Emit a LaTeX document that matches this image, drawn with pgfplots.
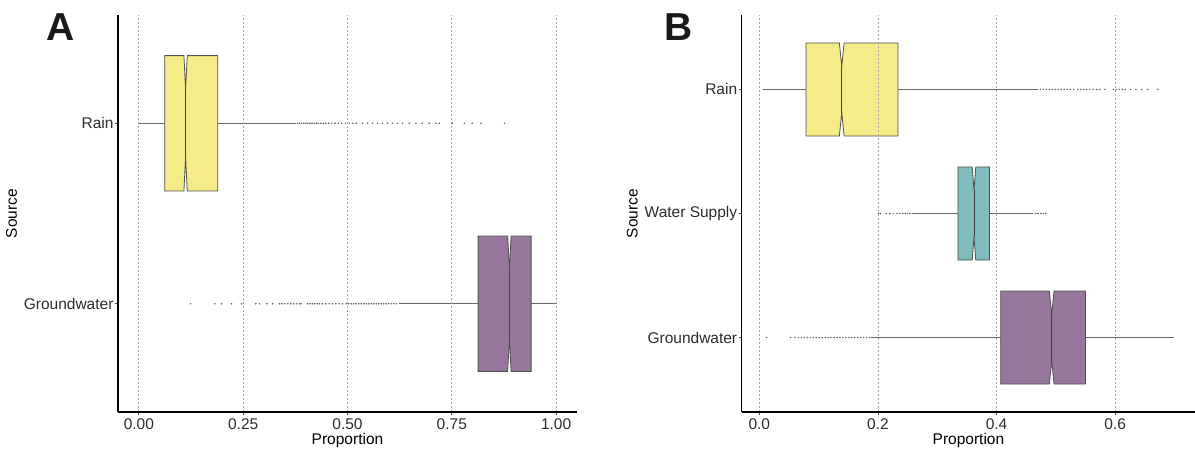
\documentclass[border=0pt]{standalone}
\usepackage{pgfplots}
\pgfplotsset{compat=1.18}
\usepackage{fontspec}
\setmainfont{Liberation Sans}
\definecolor{cyel}{HTML}{F5EB88}
\definecolor{cteal}{HTML}{7FBCBD}
\definecolor{cpur}{HTML}{98779F}
\definecolor{cedge}{HTML}{505050}
\definecolor{cwhisk}{HTML}{666666}
\definecolor{ctxt}{HTML}{2b2b2b}
\pgfplotsset{
  mybox/.style={
    scale only axis,
    axis lines=left,
    axis line style={line width=1.3pt,black,-},
    axis on top,
    xmajorgrids,
    grid style={gray!70,line width=0.8pt,dash pattern=on 2pt off 2pt},
    tick align=outside,
    major tick length=3pt,
    tick style={black!70,line width=0.8pt},
    /pgf/number format/assume math mode=true,
    every tick label/.append style={font=\fontsize{15.5}{18}\selectfont,text=ctxt},
    yticklabel style={xshift=2pt},
    label style={font=\fontsize{15.5}{18}\selectfont,text=black},
    xlabel={Proportion},
    ylabel={Source},
    xlabel style={yshift=3pt},
    clip=false,
  },
  whisk/.style={cwhisk,line width=1.1pt,no marks},
  out/.style={only marks,mark=*,mark size=0.55pt,black!60},
  med/.style={black!75,line width=1pt,no marks},
}
\begin{document}
\begin{tikzpicture}
\useasboundingbox (0,0) rectangle (1195pt,450pt);
% ---------------- Panel A ----------------
\begin{axis}[mybox,
  at={(118pt,38pt)}, anchor=south west,
  width=459pt, height=397pt,
  xmin=-0.05, xmax=1.05, ymin=0.4, ymax=2.6,
  xtick={0,0.25,0.5,0.75,1}, xticklabels={0.00,0.25,0.50,0.75,1.00},
  ytick={1,2}, yticklabels={Groundwater,Rain},
]
% Rain
\addplot[whisk] coordinates {(0.000,2) (0.062,2)};
\addplot[whisk] coordinates {(0.189,2) (0.377,2)};
\addplot[out] coordinates {(0.380,2)(0.385,2)(0.390,2)(0.395,2)(0.400,2)(0.405,2)(0.410,2)(0.415,2)(0.420,2)(0.425,2)(0.430,2)(0.436,2)(0.442,2)(0.448,2)(0.455,2)(0.462,2)(0.470,2)(0.478,2)(0.486,2)(0.495,2)(0.505,2)(0.513,2)(0.521,2)(0.536,2)(0.548,2)(0.560,2)(0.572,2)(0.584,2)(0.596,2)(0.608,2)(0.620,2)(0.632,2)(0.648,2)(0.664,2)(0.679,2)(0.696,2)(0.712,2)(0.720,2)(0.751,2)(0.780,2)(0.799,2)(0.820,2)(0.876,2)};
\addplot[fill=cyel,draw=cedge,line width=0.8pt] coordinates {(0.062,1.625)(0.108,1.625)(0.112,1.8125)(0.116,1.625)(0.189,1.625)(0.189,2.375)(0.116,2.375)(0.112,2.1875)(0.108,2.375)(0.062,2.375)} --cycle;
\addplot[med] coordinates {(0.112,1.8125)(0.112,2.1875)};
% Groundwater
\addplot[whisk] coordinates {(0.624,1) (0.813,1)};
\addplot[whisk] coordinates {(0.940,1) (1.000,1)};
\addplot[out] coordinates {(0.124,1)(0.182,1)(0.198,1)(0.222,1)(0.246,1)(0.280,1)(0.289,1)(0.307,1)(0.321,1)(0.337,1)(0.343,1)(0.350,1)(0.357,1)(0.364,1)(0.371,1)(0.378,1)(0.385,1)(0.389,1)(0.404,1)(0.410,1)(0.416,1)(0.422,1)(0.428,1)(0.433,1)(0.440,1)(0.448,1)(0.456,1)(0.464,1)(0.472,1)(0.480,1)(0.488,1)(0.497,1)(0.503,1)(0.509,1)(0.515,1)(0.521,1)(0.527,1)(0.533,1)(0.539,1)(0.545,1)(0.551,1)(0.557,1)(0.563,1)(0.569,1)(0.575,1)(0.581,1)(0.587,1)(0.593,1)(0.599,1)(0.605,1)(0.611,1)(0.617,1)};
\addplot[fill=cpur,draw=cedge,line width=0.8pt] coordinates {(0.813,0.625)(0.884,0.625)(0.888,0.8125)(0.892,0.625)(0.940,0.625)(0.940,1.375)(0.892,1.375)(0.888,1.1875)(0.884,1.375)(0.813,1.375)} --cycle;
\addplot[med] coordinates {(0.888,0.8125)(0.888,1.1875)};
\end{axis}
\node[font=\fontsize{39}{40}\selectfont\bfseries,text=black!90] at (60.5pt,423pt) {A};
% ---------------- Panel B ----------------
\begin{axis}[mybox,
  at={(741.7pt,38pt)}, anchor=south west,
  width=453.5pt, height=397pt,
  xmin=-0.0297, xmax=0.735, ymin=0.4, ymax=3.6,
  xtick={0,0.2,0.4,0.6}, xticklabels={0.0,0.2,0.4,0.6},
  ytick={1,2,3}, yticklabels={Groundwater,Water Supply,Rain},
]
% Rain
\addplot[whisk] coordinates {(0.006,3) (0.0787,3)};
\addplot[whisk] coordinates {(0.234,3) (0.470,3)};
\addplot[out] coordinates {(0.474,3)(0.479,3)(0.484,3)(0.489,3)(0.494,3)(0.499,3)(0.504,3)(0.509,3)(0.514,3)(0.519,3)(0.524,3)(0.530,3)(0.537,3)(0.542,3)(0.547,3)(0.552,3)(0.557,3)(0.563,3)(0.569,3)(0.574,3)(0.583,3)(0.597,3)(0.602,3)(0.607,3)(0.612,3)(0.617,3)(0.626,3)(0.635,3)(0.645,3)(0.655,3)(0.672,3)};
\addplot[fill=cyel,draw=cedge,line width=0.8pt] coordinates {(0.0787,2.625)(0.135,2.625)(0.139,2.8125)(0.143,2.625)(0.234,2.625)(0.234,3.375)(0.143,3.375)(0.139,3.1875)(0.135,3.375)(0.0787,3.375)} --cycle;
\addplot[med] coordinates {(0.139,2.8125)(0.139,3.1875)};
% Water Supply
\addplot[whisk] coordinates {(0.257,2) (0.335,2)};
\addplot[whisk] coordinates {(0.388,2) (0.462,2)};
\addplot[out] coordinates {(0.201,2)(0.204,2)(0.214,2)(0.220,2)(0.226,2)(0.232,2)(0.237,2)(0.242,2)(0.246,2)(0.250,2)(0.254,2)(0.466,2)(0.470,2)(0.475,2)(0.479,2)(0.483,2)};
\addplot[fill=cteal,draw=cedge,line width=0.8pt] coordinates {(0.335,1.625)(0.359,1.625)(0.362,1.8125)(0.365,1.625)(0.388,1.625)(0.388,2.375)(0.365,2.375)(0.362,2.1875)(0.359,2.375)(0.335,2.375)} --cycle;
\addplot[med] coordinates {(0.362,1.8125)(0.362,2.1875)};
% Groundwater
\addplot[whisk] coordinates {(0.192,1) (0.407,1)};
\addplot[whisk] coordinates {(0.550,1) (0.699,1)};
\addplot[out] coordinates {(0.0125,1)(0.053,1)(0.060,1)(0.066,1)(0.071,1)(0.076,1)(0.081,1)(0.086,1)(0.091,1)(0.096,1)(0.101,1)(0.106,1)(0.111,1)(0.116,1)(0.121,1)(0.126,1)(0.131,1)(0.136,1)(0.141,1)(0.146,1)(0.151,1)(0.156,1)(0.161,1)(0.166,1)(0.171,1)(0.176,1)(0.181,1)(0.186,1)(0.190,1)};
\addplot[fill=cpur,draw=cedge,line width=0.8pt] coordinates {(0.407,0.625)(0.489,0.625)(0.493,0.8125)(0.497,0.625)(0.550,0.625)(0.550,1.375)(0.497,1.375)(0.493,1.1875)(0.489,1.375)(0.407,1.375)} --cycle;
\addplot[med] coordinates {(0.493,0.8125)(0.493,1.1875)};
\end{axis}
\node[font=\fontsize{39}{40}\selectfont\bfseries,text=black!90] at (678.5pt,423pt) {B};
\end{tikzpicture}
\end{document}
